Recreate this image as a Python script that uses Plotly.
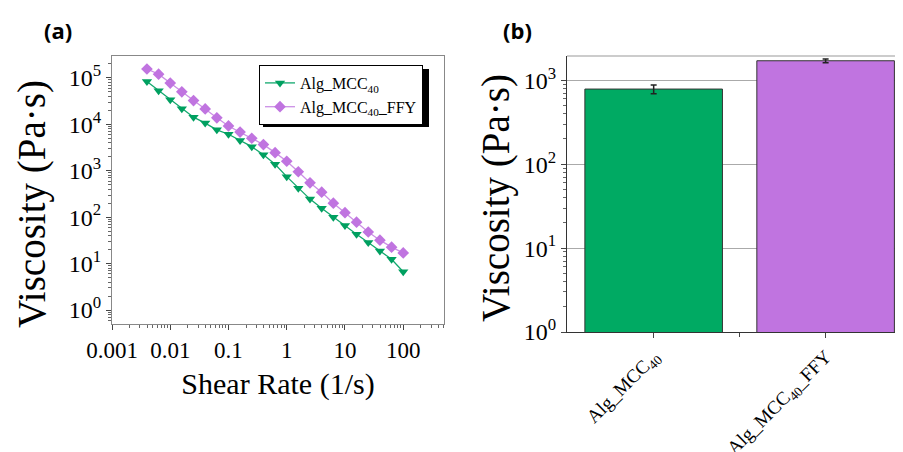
import plotly.graph_objects as go

# ---------------- data ----------------
shear_rate = [0.00398, 0.00631, 0.01, 0.0158, 0.0251, 0.0398, 0.0631, 0.1, 0.158, 0.251,
              0.398, 0.631, 1.0, 1.58, 2.51, 3.98, 6.31, 10.0, 15.8, 25.1, 39.8, 63.1, 100.0]
visc_mcc40 = [83000, 53000, 33600, 21500, 14200, 10600, 7600, 6100, 4470, 3300,
              2200, 1380, 745, 420, 245, 155, 100, 66, 43, 28.5, 18.7, 12.4, 6.7]
visc_mcc40_ffy = [155000, 120000, 77000, 50000, 32400, 21400, 13800, 9200, 6800, 5000,
                  3650, 2450, 1600, 950, 550, 345, 200, 125, 78, 48, 32, 22.6, 17]

series_names = ["Alg_MCC<sub>40</sub>", "Alg_MCC<sub>40</sub>_FFY"]
bar_categories = ["Alg_MCC<sub>40</sub>", "Alg_MCC<sub>40</sub>_FFY"]
bar_values = [787, 1711]
bar_errors = [95, 90]

x_tickvals = [0.001, 0.01, 0.1, 1, 10, 100]
x_ticktext = ["0.001", "0.01", "0.1", "1", "10", "100"]
ya_tickvals = [1, 10, 100, 1000, 10000, 100000]
ya_ticktext = ["10<sup>0</sup>", "10<sup>1</sup>", "10<sup>2</sup>",
               "10<sup>3</sup>", "10<sup>4</sup>", "10<sup>5</sup>"]
yb_tickvals = [1, 10, 100, 1000]
yb_ticktext = ["10<sup>0</sup>", "10<sup>1</sup>", "10<sup>2</sup>", "10<sup>3</sup>"]

x_title = "Shear Rate (1/s)"
y_title = "Viscosity (Pa·s)"

# ---------------- styles ----------------
GREEN = "#00AA63"
PURPLE = "#C074E0"
SERIF = "Liberation Serif"
OFF = 8                      # page body margin
W, H = 903 - OFF, 452 - OFF


def px(x):
    return (x - OFF) / W


def py(y):
    return 1 - (y - OFF) / H


fig = go.Figure()

fig.add_trace(go.Scatter(
    x=shear_rate, y=visc_mcc40, name=series_names[0], mode="lines+markers",
    line=dict(color="#12A86E", width=1.3),
    marker=dict(symbol="triangle-down", size=9, color="#00A060"),
    xaxis="x", yaxis="y"))
fig.add_trace(go.Scatter(
    x=shear_rate, y=visc_mcc40_ffy, name=series_names[1], mode="lines+markers",
    line=dict(color="#CC90E6", width=1.3),
    marker=dict(symbol="diamond", size=9, color="#C074E0"),
    xaxis="x", yaxis="y"))

fig.add_trace(go.Bar(
    x=bar_categories, y=bar_values, width=0.8,
    marker=dict(color=[GREEN, PURPLE], line=dict(color="#333333", width=1)),
    error_y=dict(type="data", array=bar_errors, visible=True,
                 color="#222222", thickness=1.5, width=3),
    showlegend=False, xaxis="x2", yaxis="y2"))

axis_common = dict(showline=True, linecolor="#555555", linewidth=1,
                   ticks="outside", ticklen=5, tickcolor="#444444",
                   tickfont=dict(family=SERIF, size=23, color="black"),
                   zeroline=False, automargin=False)

fig.update_layout(
    width=W, height=H,
    margin=dict(l=0, r=0, t=0, b=0),
    paper_bgcolor="white", plot_bgcolor="white",
    font=dict(family=SERIF, color="black"),
    xaxis=dict(axis_common, type="log", domain=[px(112), px(444)], range=[-3, 2.70],
               tickvals=x_tickvals, ticktext=x_ticktext, mirror=True,
               linecolor="#888888", showgrid=False,
               minor=dict(ticks="outside", ticklen=3, dtick="D1", tickcolor="#666666",
                          showgrid=False),
               title=dict(text=x_title, font=dict(family=SERIF, size=30),
                          standoff=11),
               anchor="y"),
    yaxis=dict(axis_common, type="log", domain=[py(324), py(56)], range=[-0.30, 5.47],
               tickvals=ya_tickvals, ticktext=ya_ticktext, mirror=True,
               linecolor="#888888", showgrid=False,
               tickfont=dict(family=SERIF, size=24, color="black"),
               minor=dict(ticks="outside", ticklen=3, dtick="D1", tickcolor="#666666",
                          showgrid=False),
               anchor="x"),
    xaxis2=dict(axis_common, domain=[px(567), 1.0], range=[-0.504, 1.45],
                linecolor="#333333", showgrid=False, tickangle=-45,
                tickfont=dict(family=SERIF, size=19, color="black"),
                minor=dict(ticks="outside", ticklen=4, tickcolor="#444444",
                           tickvals=[0.5], showgrid=False),
                anchor="y2"),
    yaxis2=dict(axis_common, type="log", domain=[py(332), py(56)], range=[0, 3.29],
                tickvals=yb_tickvals, ticktext=yb_ticktext,
                linecolor="#333333", showgrid=True, gridcolor="#AAAAAA", gridwidth=1,
                tickfont=dict(family=SERIF, size=24, color="black"),
                minor=dict(ticks="outside", ticklen=3, dtick="D1", tickcolor="#666666",
                           showgrid=False),
                anchor="x2"),
    legend=dict(x=px(259), y=py(65), xanchor="left", yanchor="top",
                bgcolor="white", bordercolor="black", borderwidth=1,
                font=dict(family=SERIF, size=16, color="black"),
                tracegroupgap=0, itemwidth=30),
    showlegend=True,
)

# legend drop shadow
fig.add_shape(type="rect", xref="paper", yref="paper",
              x0=px(263), x1=px(429), y0=py(127), y1=py(69),
              fillcolor="black", line=dict(width=0), layer="above")

# top border of panel (b)
fig.add_shape(type="line", xref="x2 domain", yref="y2 domain",
              x0=0, x1=1, y0=1, y1=1, line=dict(color="#999999", width=1))

# y-axis titles
fig.add_annotation(text=y_title, xref="paper", yref="paper", textangle=-90,
                   x=px(32), y=py(204), xanchor="center", yanchor="middle",
                   showarrow=False, font=dict(family=SERIF, size=39, color="black"))
fig.add_annotation(text=y_title, xref="paper", yref="paper", textangle=-90,
                   x=px(496), y=py(198), xanchor="center", yanchor="middle",
                   showarrow=False, font=dict(family=SERIF, size=39, color="black"))

fig.add_annotation(text="<b>(a)</b>", xref="paper", yref="paper",
                   x=px(58), y=py(30), xanchor="center", yanchor="middle",
                   showarrow=False,
                   font=dict(family="Open Sans", size=22, color="black"))
fig.add_annotation(text="<b>(b)</b>", xref="paper", yref="paper",
                   x=px(518), y=py(30), xanchor="center", yanchor="middle",
                   showarrow=False,
                   font=dict(family="Open Sans", size=22, color="black"))

fig.write_html("out.html")
